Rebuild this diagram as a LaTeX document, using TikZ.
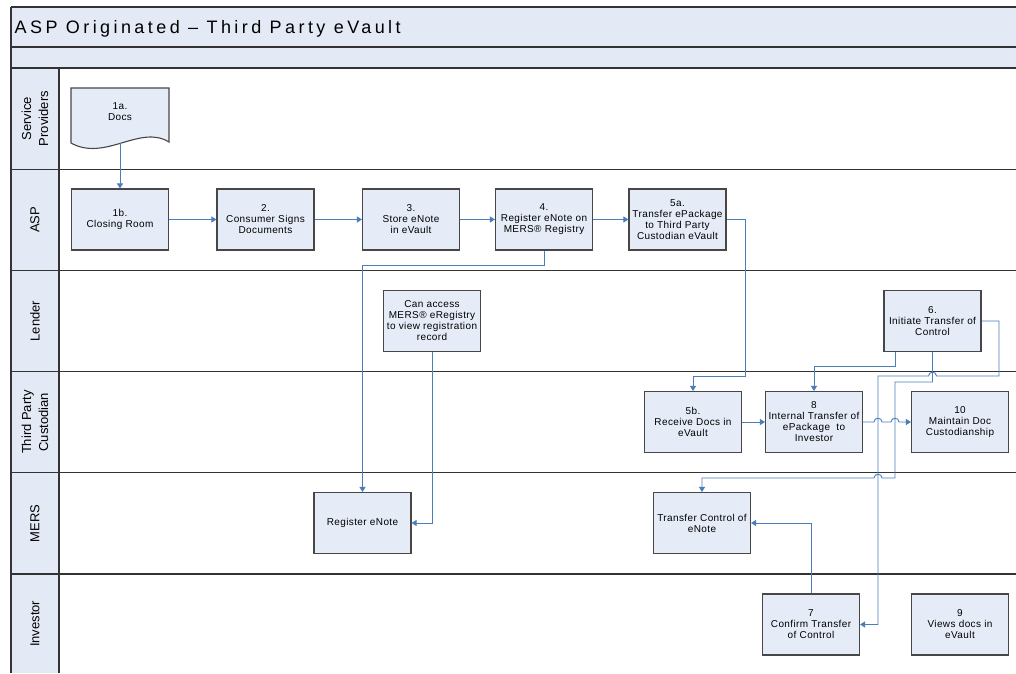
\documentclass[tikz,border=0pt]{standalone}
\usepackage{fontspec}
\setmainfont{Liberation Sans}
\newfontfamily\titlefont[LetterSpace=19]{Liberation Sans}
\newfontfamily\stepfont[LetterSpace=4]{Liberation Sans}
\usetikzlibrary{arrows.meta}
\definecolor{lanefill}{HTML}{E4EAF5}
\definecolor{boxfill}{HTML}{E6ECF7}
\definecolor{flow}{HTML}{4A7EBB}
\definecolor{rule}{HTML}{333333}
\begin{document}
\begin{tikzpicture}[x=1pt,y=-1pt,
  stepbox/.style={draw=rule!90, line width=1.1pt, fill=boxfill, minimum width=97pt,
    minimum height=61pt, inner sep=0pt, align=center,
    font=\stepfont\fontsize{10}{11}\selectfont},
  lanelabel/.style={rotate=90, align=center, font=\fontsize{13}{17}\selectfont},
  flowline/.style={draw=flow, line width=0.9pt, -{Triangle[length=5pt,width=6pt]}},
  lanerule/.style={draw=rule, line width=1.2pt}]
\useasboundingbox (0,0) rectangle (1016,673);
\fill[white] (0,0) rectangle (1016,673);

% title bar and lane header column
\fill[lanefill] (11,7) rectangle (1016,68);
\fill[lanefill] (11,68) rectangle (59,673);
\draw[lanerule] (11,7) -- (1016,7);
\draw[lanerule] (11,47) -- (1016,47);
\draw[lanerule] (11,68) -- (1016,68);
\foreach \yy in {169.2,270.4,371.6,472.8,574} \draw[lanerule] (11,\yy) -- (1016,\yy);
\draw[lanerule] (11,7) -- (11,673);
\draw[lanerule] (59,68) -- (59,673);

\node[anchor=base west, font=\titlefont\fontsize{18}{20}\selectfont, inner sep=0pt]
  (title) at (14.5,33.5) {ASP Originated – Third Party eVault};

% lane labels
\node[lanelabel] (lnsp) at (35,118.6) {Service\\Providers};
\node[lanelabel] (lnasp) at (35,219.8) {ASP};
\node[lanelabel] (lnlender) at (35,321) {Lender};
\node[lanelabel] (lntpc) at (35,422.2) {Third Party\\Custodian};
\node[lanelabel] (lnmers) at (35,523.4) {MERS};
\node[lanelabel] (lninv) at (35,623.8) {Investor};

% document shape for the incoming docs
\draw[draw=rule!90, line width=1.1pt, fill=boxfill]
  (71,88) -- (169,88) -- (169,142) .. controls (140,124) and (105,162) .. (71,143) -- cycle;
\node[align=center, font=\stepfont\fontsize{10}{11}\selectfont] (s1a) at (120,112) {1a.\\Docs};
\coordinate (s1aend) at (120,143);

% process steps
\node[stepbox] (s1b) at (120,219.5) {1b.\\Closing Room};
\node[stepbox] (s2) at (265.5,219.5) {2.\\Consumer Signs\\Documents};
\node[stepbox] (s3) at (411,219.5) {3.\\Store eNote\\in eVault};
\node[stepbox] (s4) at (544,219.5) {4.\\Register eNote on\\MERS® Registry};
\node[stepbox] (s5a) at (677.5,219.5) {5a.\\Transfer ePackage\\to Third Party\\Custodian eVault};
\node[stepbox] (acc) at (432,321) {Can access\\MERS® eRegistry\\to view registration\\record};
\node[stepbox] (s6) at (932.5,321) {6.\\Initiate Transfer of\\Control};
\node[stepbox] (s5b) at (693,422) {5b.\\Receive Docs in\\eVault};
\node[stepbox] (s8) at (814,422) {8\\Internal Transfer of\\ePackage\ \ to\\Investor};
\node[stepbox] (s10) at (960,422) {10\\Maintain Doc\\Custodianship};
\node[stepbox] (reg) at (362.5,523) {Register eNote};
\node[stepbox] (tce) at (702,523) {Transfer Control of\\eNote};
\node[stepbox] (s7) at (811,624.5) {7\\Confirm Transfer\\of Control};
\node[stepbox] (s9) at (960,624.5) {9\\Views docs in\\eVault};

% connectors
\draw[flowline] (s1aend) -- (s1b);
\draw[flowline] (s1b) -- (s2);
\draw[flowline] (s2) -- (s3);
\draw[flowline] (s3) -- (s4);
\draw[flowline] (s4) -- (s5a);
\draw[flowline] (s4.south) -- ++(0,15) -| (reg.north);
\draw[flowline] (acc.south) |- (reg.east);
\draw[flowline] (s5a.east) -| (745,376.3) -| (s5b.north);
\draw[flowline] (s5b) -- (s8);
\draw[flowline] (s8.east) -- (874,422) .. controls (874,417) and (882,417) .. (882,422)
  -- (891,422) .. controls (891,417) and (899,417) .. (899,422) -- (s10.west);
\draw[flowline] ([xshift=-37.5pt]s6.south) -- ++(0,14) -| (s8.north);
\draw[flowline] (s6.south) |- (895,382) -- (895,478) -- (882,478)
  .. controls (882,473) and (874,473) .. (874,478) -| (tce.north);
\draw[flowline] (s6.east) -| (999,376) -- (936.5,376)
  .. controls (936.5,371) and (928.5,371) .. (928.5,376) -- (878,376) |- (s7.east);
\draw[flowline] (s7.north) |- (tce.east);
\end{tikzpicture}
\end{document}
